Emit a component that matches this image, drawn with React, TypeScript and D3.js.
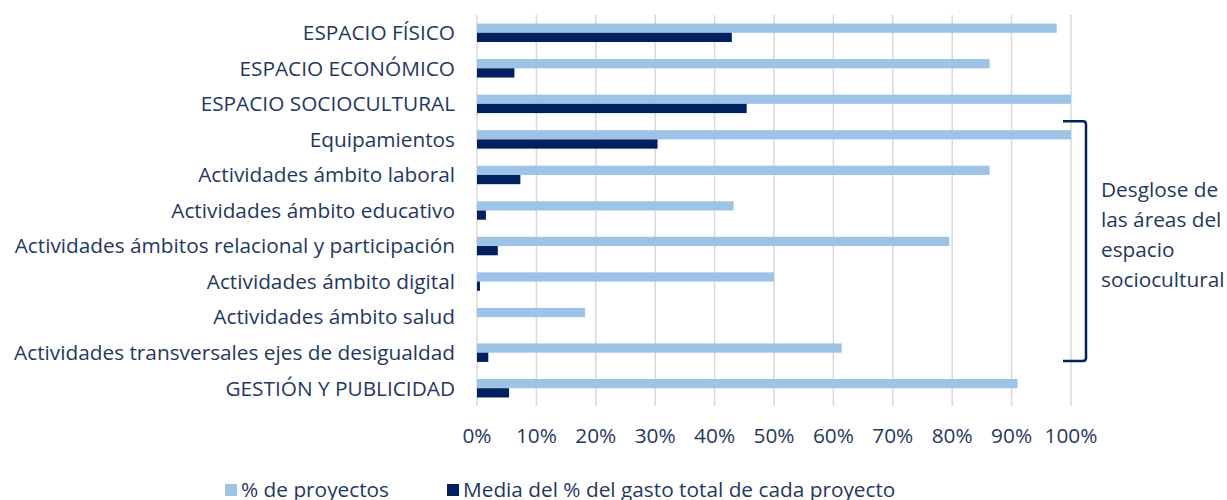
import React from "react";
import * as d3 from "d3";

const categories = [
  "ESPACIO FÍSICO",
  "ESPACIO ECONÓMICO",
  "ESPACIO SOCIOCULTURAL",
  "Equipamientos",
  "Actividades ámbito laboral",
  "Actividades ámbito educativo",
  "Actividades ámbitos relacional y participación",
  "Actividades ámbito digital",
  "Actividades ámbito salud",
  "Actividades transversales ejes de desigualdad",
  "GESTIÓN Y PUBLICIDAD",
];
const pctProyectos = [97.6, 86.3, 100, 100, 86.3, 43.2, 79.5, 50, 18.2, 61.4, 91];
const mediaGasto = [42.9, 6.3, 45.4, 30.4, 7.3, 1.5, 3.5, 0.5, 0, 1.9, 5.4];
const ticks = [0, 10, 20, 30, 40, 50, 60, 70, 80, 90, 100];
const seriesNames = ["% de proyectos", "Media del % del gasto total de cada proyecto"];
const bracketNote = ["Desglose de", "las áreas del", "espacio", "sociocultural"];

const LIGHT = "#9DC3E6";
const DARK = "#002060";
const TEXT = "#1F3864";
const FONT = "'Open Sans', sans-serif";
const FS = 20.8;

export default function App() {
  const W = 1227, H = 500;
  const x = d3.scaleLinear().domain([0, 100]).range([477, 1071]);
  const y = d3.scaleBand().domain(categories).range([15, 406]).paddingInner(0.48).paddingOuter(0.24);
  const bh = y.bandwidth() / 2;
  const yB1 = y(categories[3])! - 9;
  const yB2 = y(categories[9])! + bh * 2 - 1;
  return (
    <svg width={W} height={H} style={{ position: "absolute", left: 0, top: 0, fontFamily: FONT }}>
      {ticks.map((t) => (
        <line key={t} x1={x(t)} x2={x(t)} y1={15} y2={406} stroke="#D9D9D9" strokeWidth={1.5} />
      ))}
      {categories.map((c, i) => (
        <g key={c}>
          <rect x={x(0)} y={y(c)!} width={x(pctProyectos[i]) - x(0)} height={bh} fill={LIGHT} />
          <rect x={x(0)} y={y(c)! + bh} width={x(mediaGasto[i]) - x(0)} height={bh} fill={DARK} />
          <text x={455} y={y(c)! + bh} dy="0.35em" textAnchor="end" fontSize={FS} fill={TEXT}>
            {c}
          </text>
        </g>
      ))}
      {ticks.map((t) => (
        <text key={t} x={x(t)} y={443} textAnchor="middle" fontSize={FS} fill={TEXT}>
          {t}%
        </text>
      ))}
      <path
        d={`M1063,${yB1} L1083,${yB1} Q1086,${yB1} 1086,${yB1 + 3} L1086,${yB2 - 3} Q1086,${yB2} 1083,${yB2} L1063,${yB2}`}
        fill="none"
        stroke={DARK}
        strokeWidth={2.5}
      />
      {bracketNote.map((l, i) => (
        <text key={l} x={1101} y={190 + i * 30} dy="0.35em" fontSize={FS} fill={TEXT}>
          {l}
        </text>
      ))}
      <rect x={225} y={484} width={12} height={12} fill={LIGHT} />
      <text x={241} y={497} fontSize={FS} fill={TEXT}>{seriesNames[0]}</text>
      <rect x={447} y={484} width={12} height={12} fill={DARK} />
      <text x={463} y={497} fontSize={FS} fill={TEXT}>{seriesNames[1]}</text>
    </svg>
  );
}
